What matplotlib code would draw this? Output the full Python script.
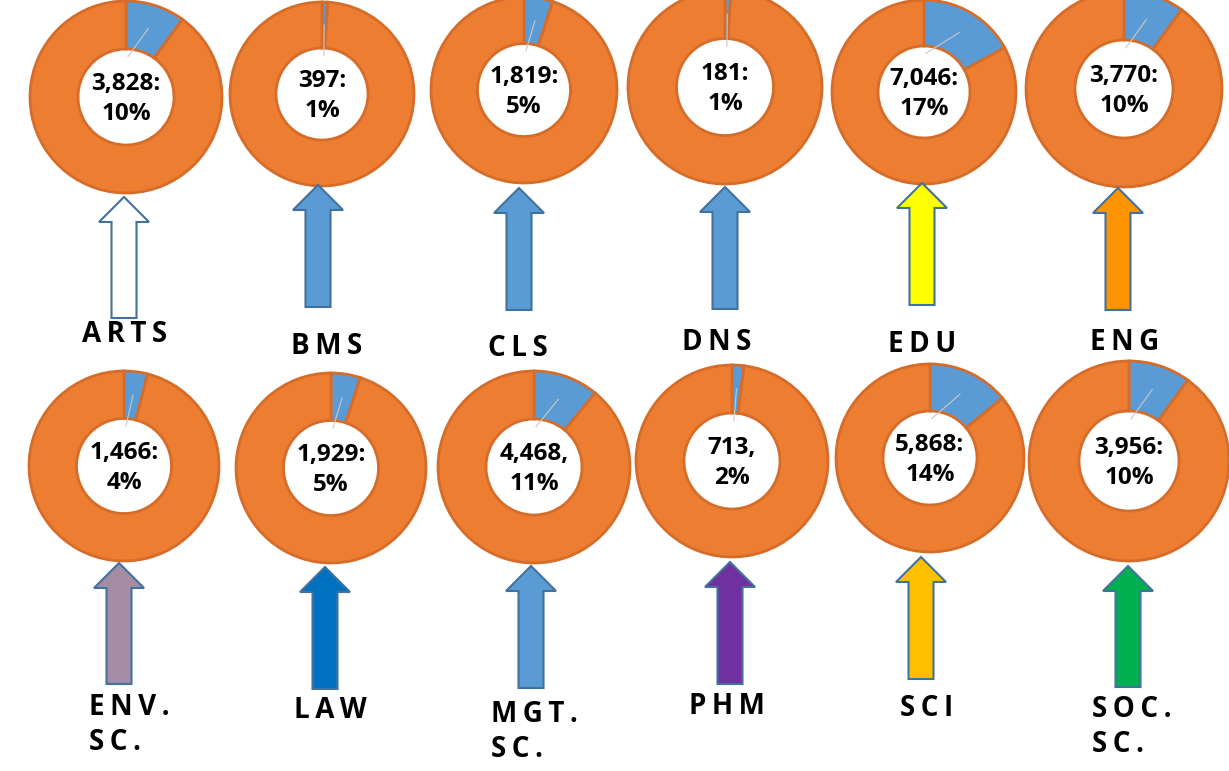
import numpy as np
import matplotlib.pyplot as plt
from matplotlib.patches import Polygon

plt.rcParams['font.family'] = ['Open Sans', 'DejaVu Sans']

# faculty data
faculties = ['ARTS', 'BMS', 'CLS', 'DNS', 'EDU', 'ENG',
             'ENV.\nSC.', 'LAW', 'MGT.\nSC.', 'PHM', 'SCI', 'SOC.\nSC.']
counts = ['3,828', '397', '1,819', '181', '7,046', '3,770',
          '1,466', '1,929', '4,468', '713', '5,868', '3,956']
seps = [':', ':', ':', ':', ':', ':', ':', ':', ',', ',', ':', ':']
percents = [10, 1, 5, 1, 17, 10, 4, 5, 11, 2, 14, 10]
arrow_colors = ['#ffffff', '#5b9bd5', '#5b9bd5', '#5b9bd5', '#ffff00', '#ff9400',
                '#a58ca2', '#0070c0', '#5b9bd5', '#7030a0', '#ffc000', '#00b050']

# layout in pixels (measured from top)
W, H = 1229, 771
donut_cx = [126, 322, 524, 725, 924, 1124, 124, 331, 534, 732, 930, 1129]
donut_cy = [97, 94, 90, 87, 92, 89, 466, 468, 467, 461, 458, 461]
donut_r = [96, 92, 93, 97, 92, 98, 95, 95, 96, 96, 94, 100]
arrow_x = [124, 318, 519, 725, 922, 1118, 119, 325, 531, 730, 921, 1128]
arrow_tip = [197, 185, 188, 187, 183, 188, 563, 567, 566, 562, 557, 566]
arrow_bot = [318, 307, 310, 309, 305, 310, 684, 689, 688, 684, 679, 687]
label_x = [125, 327, 518, 717, 922, 1125, 89, 330, 491, 727, 927, 1092]
label_y = [335, 347, 349, 343, 345, 343, 725, 710, 732, 707, 709, 727]
label_ha = ['center'] * 6 + ['left', 'center', 'left', 'center', 'center', 'left']

fig = plt.figure(figsize=(W / 100, H / 100), dpi=100)
ax = fig.add_axes([0, 0, 1, 1])

def spaced(s):
    # wide letter spacing as in the original labels
    return '\n'.join('\u2009'.join(line) for line in s.split('\n'))

for i in range(len(faculties)):
    cx = donut_cx[i]
    cy = H - donut_cy[i]
    r = donut_r[i]
    p = percents[i]
    ax.pie([p, 100 - p], colors=['#5b9bd5', '#ed7d31'], startangle=90,
           counterclock=False, radius=r, center=(cx, cy),
           wedgeprops=dict(width=r * 0.5, edgecolor='#d56c2a', linewidth=2))
    # leader line from the small slice to the label
    a = np.deg2rad(90 - p * 3.6 / 2)
    ax.plot([cx + 0.75 * r * np.cos(a), cx + 0.02 * r], [cy + 0.75 * r * np.sin(a), cy + 0.42 * r],
            color='#c8c8c8', lw=0.8, zorder=3)
    ax.text(cx, cy - 2, counts[i] + seps[i] + '\n' + str(p) + '%', ha='center', va='center',
            fontsize=17.5, fontweight='bold', color='black', linespacing=1.28, zorder=4)

    # up arrow below the donut
    x = arrow_x[i]
    tip = H - arrow_tip[i]
    base = tip - 25
    bot = H - arrow_bot[i]
    hw, sw = 25, 12.5
    pts = [(x - hw, base), (x, tip), (x + hw, base), (x + sw, base),
           (x + sw, bot), (x - sw, bot), (x - sw, base)]
    ax.add_patch(Polygon(pts, closed=True, facecolor=arrow_colors[i],
                         edgecolor='#41719c', linewidth=1.5, zorder=2))

    ax.text(label_x[i], H - label_y[i], spaced(faculties[i]), ha=label_ha[i], va='center',
            fontsize=20, fontweight='bold', color='black', linespacing=1.3)

ax.set_xlim(0, W)
ax.set_ylim(0, H)
ax.set_aspect('equal')
ax.axis('off')

fig.savefig('out.png', dpi=100)
